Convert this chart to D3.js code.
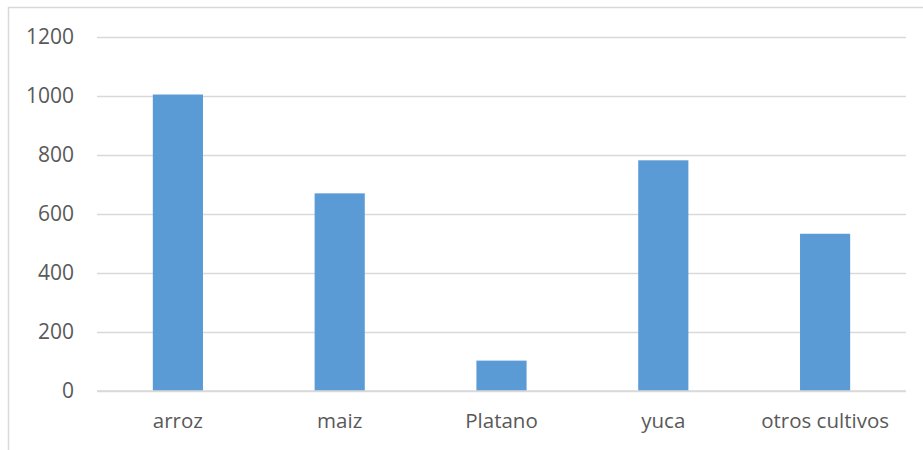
<!DOCTYPE html>
<html>
<head>
<meta charset="utf-8">
<script src="https://cdn.jsdelivr.net/npm/d3@7"></script>
<style>
  html, body { margin: 0; padding: 0; background: #fff; }
  svg { display: block; }
</style>
</head>
<body>
<svg id="chart" width="923" height="450"></svg>
<script>
const categories = ["arroz", "maiz", "Platano", "yuca", "otros cultivos"];
const values = [1005, 670, 103, 782, 533];
const yTicks = [0, 200, 400, 600, 800, 1000, 1200];

const svg = d3.select("#chart");
const W = 923, H = 450;
const margin = { left: 97, right: 17, top: 37, bottom: 59 };
const plotR = W - margin.right;
const plotB = H - margin.bottom;

// outer chart frame
svg.append("rect")
  .attr("x", 8.5).attr("y", 7.5)
  .attr("width", W + 10).attr("height", H + 10)
  .attr("fill", "#fff")
  .attr("stroke", "#d9d9d9").attr("stroke-width", 1.5);

const x = d3.scaleBand()
  .domain(categories)
  .range([margin.left, plotR])
  .paddingInner(0.69)
  .paddingOuter(0.345);

const y = d3.scaleLinear()
  .domain([0, 1200])
  .range([plotB, margin.top]);

// gridlines + y labels via axis
const yAxis = d3.axisLeft(y)
  .tickValues(yTicks)
  .tickSize(-(plotR - margin.left))
  .tickPadding(23)
  .tickFormat(d3.format("d"));

const gy = svg.append("g")
  .attr("transform", `translate(${margin.left},0)`)
  .call(yAxis);
gy.select(".domain").remove();
gy.selectAll(".tick line")
  .attr("stroke", "#d9d9d9").attr("stroke-width", 1.5);
gy.selectAll(".tick text")
  .attr("fill", "#595959")
  .style("font-family", "'Open Sans', sans-serif")
  .style("font-size", "21px");

// bars
svg.append("g").selectAll("rect")
  .data(values)
  .join("rect")
  .attr("x", (d, i) => x(categories[i]))
  .attr("y", d => y(d))
  .attr("width", x.bandwidth())
  .attr("height", d => y(0) - y(d))
  .attr("fill", "#5b9bd5");

// x axis labels
const xAxis = d3.axisBottom(x).tickSize(0).tickPadding(22);
const gx = svg.append("g")
  .attr("transform", `translate(0,${plotB})`)
  .call(xAxis);
gx.select(".domain").remove();
gx.selectAll(".tick text")
  .attr("fill", "#595959")
  .style("font-family", "'Open Sans', sans-serif")
  .style("font-size", "20.5px");

// bottom axis line (0 gridline redrawn on top of bars)
svg.append("line")
  .attr("x1", margin.left).attr("x2", plotR)
  .attr("y1", y(0)).attr("y2", y(0))
  .attr("stroke", "#d9d9d9").attr("stroke-width", 1.5);
</script>
</body>
</html>
